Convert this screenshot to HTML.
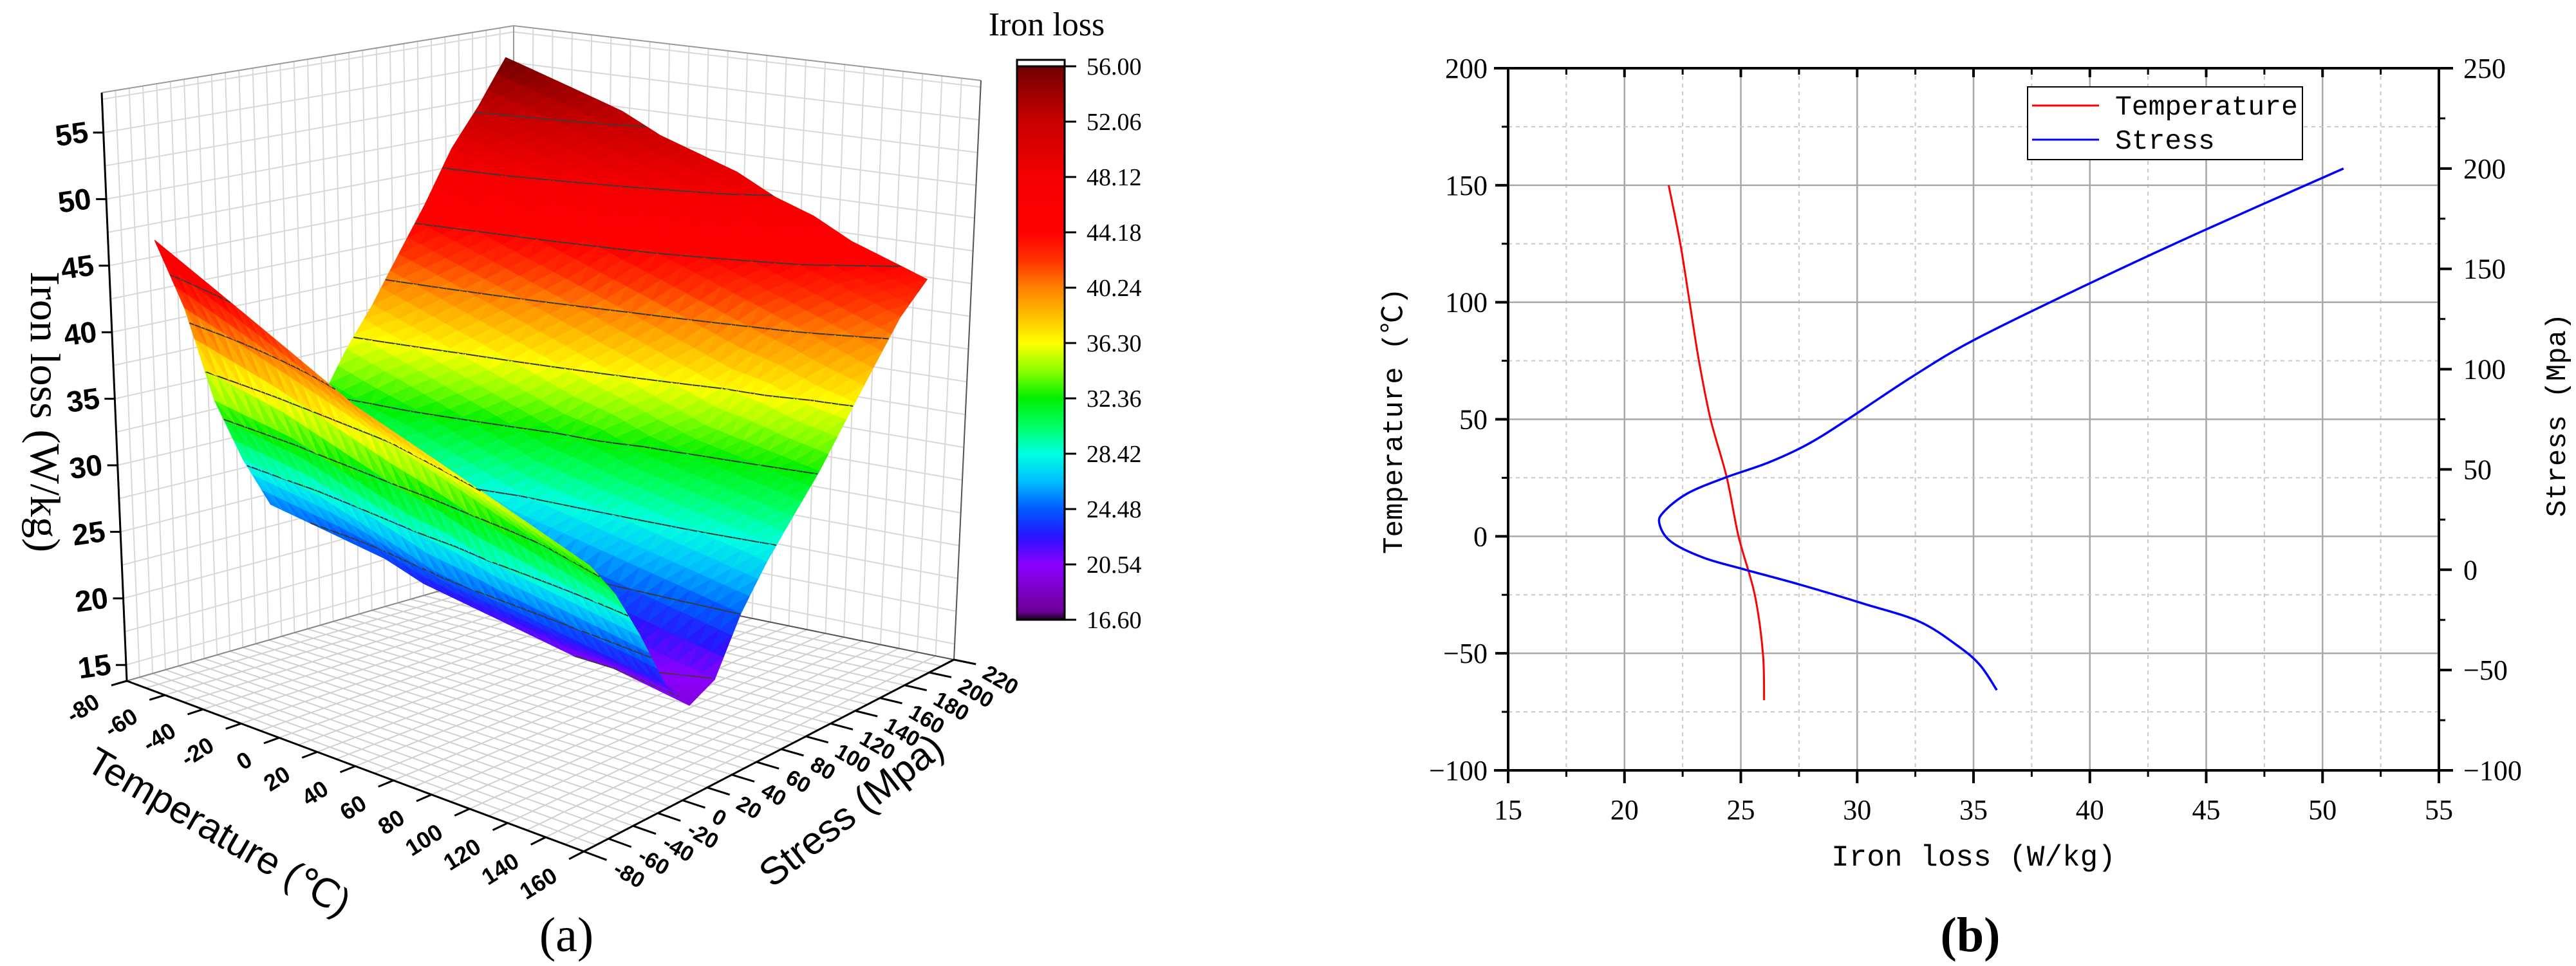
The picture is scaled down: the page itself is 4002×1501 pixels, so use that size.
<!DOCTYPE html>
<html><head><meta charset="utf-8">
<style>
html,body{margin:0;padding:0;background:#fff;}
svg{display:block;}
.tk{font-family:"Liberation Serif",serif;font-size:44px;fill:#000;}
.mono{font-family:"Liberation Mono","Noto Sans CJK SC",monospace;fill:#000;}
.b3{font-family:"Liberation Sans",sans-serif;font-weight:bold;fill:#000;}
</style></head>
<body>
<svg id="fig" xmlns="http://www.w3.org/2000/svg" width="4002" height="1501" viewBox="0 0 4002 1501">
  <g id="pa"></g>
  <g id="pb"></g>
  <text x="880" y="1478" text-anchor="middle" font-family="Liberation Serif,serif" font-size="76">(a)</text>
  <text x="3061" y="1478" text-anchor="middle" font-family="Liberation Serif,serif" font-size="76" font-weight="bold">(b)</text>
</svg>
<script>
// ===== Panel (a) data =====
const surfTemps = [-70,-50,-30,-10,10,30,50,70,90,110,130,150];
const surfStress = [-60,-40,-20,0,20,40,60,80,100,120,140,160,180,200];
const surfLoss = [
 [47,41.5,34,29,25,27,32,35.5,38.5,42,45.5,49.5,52.5,56],
 [45.5,40.5,33.5,28.5,24.5,26.5,31,34.5,37.5,41,44.5,48.5,51.5,55],
 [44,39.5,33,28,24,26,30.5,33.5,36.5,40,43.5,47.5,50.5,54],
 [42.5,38.5,32,27,23.5,25,29.5,32.5,35.5,39,42.5,46.5,49.5,53],
 [41,37.5,31,26,22.5,24,28.5,31.5,34.5,38,41.5,45.5,48.5,51.5],
 [39.5,36.5,30,25,22,23.5,27.5,30.5,33.5,37,40.5,44.5,47.5,50.5],
 [38.5,35.5,29.5,24.5,21.5,23,27,30,33,36,39.5,43.5,46.5,49.5],
 [37.5,34.5,28.5,24,21,22.5,26.5,29.5,32,35,38.5,42.5,45.5,48],
 [36.5,33.5,28,23.5,20.5,22,26,29,31.5,34,37.5,41.5,44.5,47],
 [35.5,32.5,27.5,23,20.5,21.5,25.5,28.5,31,33.5,37,40.5,43.5,45.5],
 [34.5,31.5,27,22.5,20,21,25,28,30.5,33,36,39.5,42.5,44.5],
 [33.5,30.5,26.5,22,19.5,20.5,24.5,27.5,30,32.5,35.5,38.5,41.5,43.5]
];
const zTicks = [15,20,25,30,35,40,45,50,55];
const tTicks = [-80,-60,-40,-20,0,20,40,60,80,100,120,140,160];
const sTicks = [-80,-60,-40,-20,0,20,40,60,80,100,120,140,160,180,200,220];
const cbTicks = ["56.00","52.06","48.12","44.18","40.24","36.30","32.36","28.42","24.48","20.54","16.60"];
const contourLevels = [20.54,24.48,28.42,32.36,36.30,40.24,44.18,48.12,52.06];
const cbMin = 16.6, cbMax = 56.0;

// ===== Panel (b) data =====
const tempLoss = [21.9,22.4,22.8,23.2,23.7,24.4,24.9,25.6,25.95,26.0];
const tempVals = [150,125,100,75,50,25,0,-25,-50,-70];
const stressLoss = [50.9,44.8,39.95,35.1,32.4,29.6,27.9,26.2,24.3,22.7,21.7,21.5,22.0,23.4,25.2,27.6,30.3,32.7,34.4,35.3,36.0];
const stressVals = [200,168.6,142.5,115,96.5,75,62.7,53.5,45.8,38,29,23,14,6,0,-7.6,-17,-26,-38.6,-47.8,-60];
const xTicksB = [15,20,25,30,35,40,45,50,55];
const yLTicks = [-100,-50,0,50,100,150,200];
const yRTicks = [-100,-50,0,50,100,150,200,250];

const NS = "http://www.w3.org/2000/svg";
function mk(tag, attrs, parent){
  const e = document.createElementNS(NS, tag);
  for (const k in attrs) e.setAttribute(k, attrs[k]);
  parent.appendChild(e);
  return e;
}

// ---------- Panel (a) ----------
const pa = document.getElementById('pa');
const ZF = 13.8, ZT = 58;
function bil(u,v,a,b,c,d){return (1-u)*(1-v)*a + u*(1-v)*b + u*v*c + (1-u)*v*d;}
function proj(T,S,z){
  const u=(T+80)/240, v=(S+80)/300;
  const fx=bil(u,v,197,907,1482,798), fy=bil(u,v,1058,1323,1025,885);
  const h=bil(u,v,914,930,900,845), lean=bil(u,v,-39,0,42,0);
  const t=(z-ZF)/(ZT-ZF);
  return [fx+lean*t, fy-h*t];
}
const cstops = [[16.6,[20,0,30]],[17.2,[110,0,150]],[20.54,[140,0,255]],[22.5,[40,20,255]],[24.48,[0,90,255]],[26.5,[0,190,255]],[28.42,[0,255,225]],[30.4,[0,255,100]],[32.36,[0,240,0]],[34.3,[140,255,0]],[36.3,[255,255,0]],[38.3,[255,190,0]],[40.24,[255,128,0]],[42.2,[255,50,0]],[44.18,[255,0,0]],[48.12,[245,0,0]],[52.06,[200,0,0]],[54,[160,0,0]],[56,[110,0,0]]];
function cmap(z){
  if (z<=cstops[0][0]) return 'rgb('+cstops[0][1].join(',')+')';
  for (let i=1;i<cstops.length;i++){
    if (z<=cstops[i][0]){
      const a=cstops[i-1], b=cstops[i], f=(z-a[0])/(b[0]-a[0]);
      const c=a[1].map((x,j)=>Math.round(x+(b[1][j]-x)*f));
      return 'rgb('+c.join(',')+')';
    }
  }
  return 'rgb('+cstops[cstops.length-1][1].join(',')+')';
}
function line(g,p,q,col,w,name){
  const l = mk('line',{x1:p[0].toFixed(1),y1:p[1].toFixed(1),x2:q[0].toFixed(1),y2:q[1].toFixed(1),stroke:col,'stroke-width':w},g);
  
  
  return l;
}
const walls = mk('g',{},pa);


for (let S=-80; S<=220; S+=10) line(walls, proj(-80,S,ZF), proj(-80,S,ZT), '#d8d8d8', 2, 'left-wall-gridline');
for (let z=15; z<=57.5; z+=2.5) line(walls, proj(-80,-80,z), proj(-80,220,z), '#d8d8d8', 2, 'left-wall-gridline');
for (let T=-80; T<=160; T+=10) line(walls, proj(T,220,ZF), proj(T,220,ZT), '#d8d8d8', 2, 'right-wall-gridline');
for (let z=15; z<=57.5; z+=2.5) line(walls, proj(-80,220,z), proj(160,220,z), '#d8d8d8', 2, 'right-wall-gridline');
for (let T=-80; T<=160; T+=10) line(walls, proj(T,-80,ZF), proj(T,220,ZF), '#d0d0d0', 2, 'floor-gridline');
for (let S=-80; S<=220; S+=10) line(walls, proj(-80,S,ZF), proj(160,S,ZF), '#d0d0d0', 2, 'floor-gridline');
line(walls, proj(-80,-80,ZT), proj(-80,220,ZT), '#999', 2, 'box-edge');
line(walls, proj(-80,220,ZT), proj(160,220,ZT), '#999', 2, 'box-edge');
line(walls, proj(-80,220,ZF), proj(-80,220,ZT), '#999', 2, 'box-edge');
line(walls, proj(160,220,ZF), proj(160,220,ZT), '#555', 2, 'box-edge');
line(walls, proj(-80,220,ZF), proj(160,220,ZF), '#555', 2, 'box-edge');
line(walls, proj(-80,220,ZF), proj(-80,-80,ZF), '#888', 2, 'box-edge');
line(walls, proj(-80,-80,ZF), proj(-80,-80,ZT), '#000', 3, 'z-axis-line');
line(walls, proj(-80,-80,ZF), proj(160,-80,ZF), '#000', 3, 'temperature-axis-line');
line(walls, proj(160,-80,ZF), proj(160,220,ZF), '#000', 3, 'stress-axis-line');

const surf = mk('g',{},pa);


const SUB = 3, tris = [];
function zAt(i,j,a,b){
  const z00=surfLoss[i][j], z10=surfLoss[i+1][j], z01=surfLoss[i][j+1], z11=surfLoss[i+1][j+1];
  return (1-a)*(1-b)*z00 + a*(1-b)*z10 + (1-a)*b*z01 + a*b*z11;
}
for (let i=0;i<surfTemps.length-1;i++){
  for (let j=0;j<surfStress.length-1;j++){
    const T0=surfTemps[i], T1=surfTemps[i+1], S0=surfStress[j], S1=surfStress[j+1];
    for (let a=0;a<SUB;a++) for (let b=0;b<SUB;b++){
      const a0=a/SUB, a1=(a+1)/SUB, b0=b/SUB, b1=(b+1)/SUB;
      const P=(aa,bb)=>{const T=T0+(T1-T0)*aa, S=S0+(S1-S0)*bb, z=zAt(i,j,aa,bb); return {T,S,z};};
      const p00=P(a0,b0), p10=P(a1,b0), p01=P(a0,b1), p11=P(a1,b1);
      [[p00,p10,p11],[p00,p11,p01]].forEach(tr=>{
        const T=(tr[0].T+tr[1].T+tr[2].T)/3, S=(tr[0].S+tr[1].S+tr[2].S)/3, z=(tr[0].z+tr[1].z+tr[2].z)/3;
        tris.push({tr, key:(T+80)/240-(S+80)/300, z});
      });
    }
  }
}
tris.sort((a,b)=>a.key-b.key);
tris.forEach(t=>{
  const pts = t.tr.map(p=>proj(p.T,p.S,p.z).map(v=>v.toFixed(1)).join(',')).join(' ');
  const c = cmap(t.z);
  const poly = mk('polygon',{points:pts, fill:c, stroke:c, 'stroke-width':1.2, 'stroke-linejoin':'round'}, surf);
  
  
  // contour segments
  contourLevels.forEach(L=>{
    const cr=[];
    for (let k=0;k<3;k++){
      const p=t.tr[k], q=t.tr[(k+1)%3];
      if ((p.z-L)*(q.z-L)<0){
        const f=(L-p.z)/(q.z-p.z);
        cr.push(proj(p.T+(q.T-p.T)*f, p.S+(q.S-p.S)*f, L));
      }
    }
    if (cr.length===2){
      const cl = mk('line',{x1:cr[0][0].toFixed(1),y1:cr[0][1].toFixed(1),x2:cr[1][0].toFixed(1),y2:cr[1][1].toFixed(1),stroke:'#3a3a3a','stroke-width':2},surf);
      
      
    }
  });
});

zTicks.forEach(z=>{
  const p = proj(-80,-80,z);
  line(pa, p, [p[0]-16,p[1]], '#000', 3, 'z-tick');
  const t = mk('text',{x:p[0]-24, y:p[1]+18, 'text-anchor':'end', 'font-size':46, class:'b3', transform:'rotate(-8 '+(p[0]-50)+' '+p[1]+')'}, pa);
  
  
  t.textContent = z;
});
tTicks.forEach(T=>{
  const p = proj(T,-80,ZF), q = proj(T,-92,ZF);
  line(pa, p, q, '#000', 3, 'temperature-tick');
  const cx = q[0]-22, cy = q[1]+22;
  const t = mk('text',{x:cx, y:cy+12, 'text-anchor':'end', 'font-size':36, class:'b3', transform:'rotate(-32 '+cx+' '+cy+')'}, pa);
  
  
  t.textContent = T;
});
sTicks.forEach(S=>{
  const p = proj(160,S,ZF), q = proj(172,S,ZF);
  line(pa, p, q, '#000', 3, 'stress-tick');
  const cx = q[0]+14, cy = q[1]+10;
  const t = mk('text',{x:cx, y:cy+12, 'text-anchor':'start', 'font-size':34, class:'b3', transform:'rotate(30 '+cx+' '+cy+')'}, pa);
  
  
  t.textContent = S;
});
</script>
<svg style="position:absolute;left:0;top:0" width="4002" height="1501" xmlns="http://www.w3.org/2000/svg">
  <text x="48" y="640" text-anchor="middle" font-family="Liberation Serif,serif" font-size="66" transform="rotate(90 48 640)">Iron  loss  (W/kg)</text>
  <text x="330" y="1310" text-anchor="middle" font-family="Liberation Sans,sans-serif" font-size="60" transform="rotate(30 330 1310)">Temperature  (℃)</text>
  <text x="1335" y="1275" text-anchor="middle" font-family="Liberation Sans,sans-serif" font-size="60" transform="rotate(-38 1335 1275)">Stress (Mpa)</text>
  <text x="1626" y="55" text-anchor="middle" font-family="Liberation Serif,serif" font-size="52">Iron loss</text>
  <defs>
    <linearGradient id="cbg" x1="0" y1="1" x2="0" y2="0">
      <stop offset="0" stop-color="#140020"/>
      <stop offset="0.015" stop-color="#6e0096"/>
      <stop offset="0.1" stop-color="#8c00ff"/>
      <stop offset="0.15" stop-color="#2814ff"/>
      <stop offset="0.2" stop-color="#005aff"/>
      <stop offset="0.25" stop-color="#00beff"/>
      <stop offset="0.3" stop-color="#00ffe1"/>
      <stop offset="0.35" stop-color="#00ff64"/>
      <stop offset="0.4" stop-color="#00f000"/>
      <stop offset="0.45" stop-color="#8cff00"/>
      <stop offset="0.5" stop-color="#ffff00"/>
      <stop offset="0.55" stop-color="#ffbe00"/>
      <stop offset="0.6" stop-color="#ff8000"/>
      <stop offset="0.65" stop-color="#ff3200"/>
      <stop offset="0.7" stop-color="#ff0000"/>
      <stop offset="0.8" stop-color="#f50000"/>
      <stop offset="0.9" stop-color="#c80000"/>
      <stop offset="0.95" stop-color="#a00000"/>
      <stop offset="1" stop-color="#6e0000"/>
    </linearGradient>
  </defs>
  <rect x="1580" y="93" width="74" height="10" fill="#fff" stroke="#000" stroke-width="3"/>
  <rect x="1580" y="103" width="74" height="860" fill="url(#cbg)" stroke="#000" stroke-width="3"/>
  <g id="cbticks"></g>
</svg>
<script>
const cbg = document.getElementById('cbticks');
cbTicks.forEach(lbl=>{
  const v = parseFloat(lbl);
  const y = 103 + (cbMax - v)/(cbMax-cbMin)*860;
  const l = mk('line',{x1:1654,y1:y,x2:1672,y2:y,stroke:'#000','stroke-width':3},cbg);
  
  
  const t = mk('text',{x:1688,y:y+13,'font-size':38,'font-family':'Liberation Serif,serif'},cbg);
  
  
  t.textContent = lbl;
});

// ---------- Panel (b) ----------
const pb = document.getElementById('pb');
const X0=2343, X1=3789, Y0=106, Y1=1197;
const xb = v => X0 + (v-15)/40*(X1-X0);
const yL = v => Y1 - (v+100)/300*(Y1-Y0);
const yR = v => Y1 - (v+100)/350*(Y1-Y0);
function ln(g,x1,y1,x2,y2,col,w,name,dash){
  const a = {x1,y1,x2,y2,stroke:col,'stroke-width':w};
  if (dash) a['stroke-dasharray']=dash;
  const l = mk('line',a,g);
  
  
}
for (let v=17.5; v<55; v+=5) ln(pb,xb(v),Y0,xb(v),Y1,'#c8c8c8',2,'x-minor-gridline','6,6');
for (let v=20; v<55; v+=5) ln(pb,xb(v),Y0,xb(v),Y1,'#a8a8a8',2.5,'x-major-gridline');
for (let v=-75; v<200; v+=50) ln(pb,X0,yL(v),X1,yL(v),'#c8c8c8',2,'y-minor-gridline','6,6');
for (let v=-50; v<200; v+=50) ln(pb,X0,yL(v),X1,yL(v),'#a8a8a8',2.5,'y-major-gridline');
ln(pb,X0-22,Y1,X1+22,Y1,'#000',4,'x-axis-line');
ln(pb,X0-22,Y0,X1+22,Y0,'#000',4,'top-axis-line');
ln(pb,X0,Y0,X0,Y1+20,'#000',4,'left-y-axis-line');
ln(pb,X1,Y0,X1,Y1,'#000',4,'right-y-axis-line');
xTicksB.forEach(v=>{
  ln(pb,xb(v),Y1-2,xb(v),Y1+20,'#000',4,'x-tick');
  ln(pb,xb(v),Y0,xb(v),Y0+14,'#000',4,'top-tick');
  const t = mk('text',{x:xb(v),y:Y1+76,'text-anchor':'middle',class:'tk'},pb);
  
  
  t.textContent = v;
});
for (let v=17.5; v<55; v+=5){ ln(pb,xb(v),Y1,xb(v),Y1+10,'#000',3,'x-minor-tick'); ln(pb,xb(v),Y0,xb(v),Y0+10,'#000',3,'top-minor-tick'); }
yLTicks.forEach(v=>{
  ln(pb,X0-20,yL(v),X0,yL(v),'#000',4,'left-y-tick');
  const t = mk('text',{x:X0-32,y:yL(v)+15,'text-anchor':'end',class:'tk'},pb);
  
  
  t.textContent = v<0 ? '\u2212'+(-v) : v;
});
for (let v=-75; v<200; v+=50) ln(pb,X0-10,yL(v),X0,yL(v),'#000',3,'left-y-minor-tick');
yRTicks.forEach(v=>{
  ln(pb,X1,yR(v),X1+20,yR(v),'#000',4,'right-y-tick');
  const t = mk('text',{x:X1+38,y:yR(v)+15,'text-anchor':'start',class:'tk'},pb);
  
  
  t.textContent = v<0 ? '\u2212'+(-v) : v;
});
for (let v=-75; v<250; v+=50) ln(pb,X1,yR(v),X1+10,yR(v),'#000',3,'right-y-minor-tick');

function smooth(pts){
  let d = 'M'+pts[0][0].toFixed(1)+','+pts[0][1].toFixed(1);
  for (let i=0;i<pts.length-1;i++){
    const p0=pts[Math.max(0,i-1)], p1=pts[i], p2=pts[i+1], p3=pts[Math.min(pts.length-1,i+2)];
    const c1=[p1[0]+(p2[0]-p0[0])/6, p1[1]+(p2[1]-p0[1])/6];
    const c2=[p2[0]-(p3[0]-p1[0])/6, p2[1]-(p3[1]-p1[1])/6];
    d += ' C'+c1.map(v=>v.toFixed(1)).join(',')+' '+c2.map(v=>v.toFixed(1)).join(',')+' '+p2.map(v=>v.toFixed(1)).join(',');
  }
  return d;
}
const redPts = tempLoss.map((v,i)=>[xb(v), yL(tempVals[i])]);
const bluePts = stressLoss.map((v,i)=>[xb(v), yR(stressVals[i])]);
const rp = mk('path',{d:smooth(redPts),fill:'none',stroke:'#ff0000','stroke-width':3},pb);


const bp = mk('path',{d:smooth(bluePts),fill:'none',stroke:'#0000ff','stroke-width':3.5},pb);


</script>
<svg style="position:absolute;left:0;top:0" width="4002" height="1501" xmlns="http://www.w3.org/2000/svg">
  <g>
    <rect x="3150" y="135" width="427" height="113" fill="#fff" stroke="#000" stroke-width="2"/>
    <line x1="3157" y1="164" x2="3261" y2="164" stroke="#ff0000" stroke-width="3"/>
    <text x="3286" y="178" class="mono" font-size="43">Temperature</text>
    <line x1="3157" y1="217" x2="3261" y2="217" stroke="#0000ff" stroke-width="3"/>
    <text x="3286" y="231" class="mono" font-size="43">Stress</text>
  </g>
  <text x="3066" y="1345" text-anchor="middle" class="mono" font-size="46">Iron loss (W/kg)</text>
  <text x="2178" y="654" text-anchor="middle" class="mono" font-size="44" transform="rotate(-90 2178 654)">Temperature (℃)</text>
  <text x="3985" y="645" text-anchor="middle" class="mono" font-size="44" transform="rotate(-90 3985 645)">Stress (Mpa)</text>
</svg>
</body></html>
